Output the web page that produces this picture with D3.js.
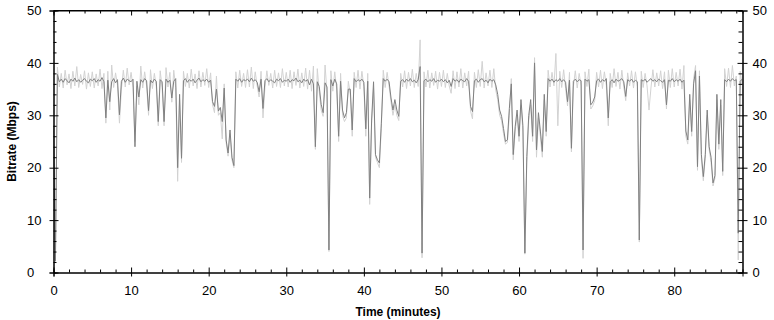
<!DOCTYPE html>
<html>
<head>
<meta charset="utf-8">
<script src="https://cdn.jsdelivr.net/npm/d3@7"></script>
<style>
  body { margin: 0; background: #fff; }
  svg text { font-family: "Liberation Sans", Arial, sans-serif; }
</style>
</head>
<body>
<svg id="chart" width="774" height="320"></svg>
<script>
let width = 774, height = 320;

// one sample every 0.25 minutes, starting at t = 0
let sampleStep = 0.25;

// smoothed bitrate (Mbps), dark line
let avgRate = [
  28, 2.2, 37.8, 36.4, 36.9, 36.3, 37.0, 36.6, 36.2, 36.9, 36.5, 37.1, 36.4, 36.8, 36.3, 36.7, 37.0, 36.5, 36.2, 36.9,
  36.6, 37.0, 36.3, 36.8, 36.5, 37.2, 36.4, 29.5, 36.7, 32.6, 36.4, 37.0, 36.2, 36.8, 30.1, 36.5, 37.1, 36.3, 36.9, 36.6,
  36.4, 36.9, 24.0, 36.5, 33.5, 36.8, 36.3, 37.0, 36.6, 30.9, 36.7, 36.2, 36.9, 36.5, 28.8, 36.8, 36.4, 28.8, 36.9, 36.3,
  36.7, 33.3, 36.5, 37.0, 20.0, 34.0, 21.8, 36.6, 37.0, 36.3, 36.8, 36.5, 36.9, 36.2, 36.7, 37.1, 36.4, 36.8, 36.5, 36.9,
  36.3, 36.7, 32.6, 31.7, 35.0, 30.8, 31.5, 28.8, 35.2, 25.3, 22.8, 27.2, 22.0, 20.4, 36.9, 36.5, 37.0, 36.3, 36.8, 36.6,
  36.9, 36.4, 37.1, 36.5, 36.8, 36.3, 34.5, 36.9, 31.3, 36.6, 37.0, 36.4, 36.8, 36.5, 36.2, 36.9, 36.6, 37.0, 36.3, 36.7,
  36.5, 36.9, 36.3, 36.8, 36.6, 37.1, 36.4, 36.7, 36.2, 36.9, 36.5, 36.8, 35.8, 36.9, 36.0, 24.0, 36.4, 35.5, 32.1, 30.5,
  36.2, 35.4, 4.3, 36.8, 35.6, 36.9, 36.0, 26.0, 36.5, 31.0, 29.5, 30.5, 35.0, 35.0, 27.2, 37.0, 36.4, 36.8, 36.5, 36.9,
  36.3, 27.4, 36.5, 14.2, 29.1, 36.4, 22.5, 21.5, 20.9, 28.5, 37.0, 36.5, 36.9, 36.4, 33.3, 31.0, 33.0, 31.0, 29.8, 36.5,
  36.8, 36.3, 36.9, 36.5, 37.0, 36.4, 36.7, 36.2, 36.8, 39.3, 3.7, 36.6, 36.9, 36.4, 36.8, 36.5, 37.0, 36.3, 36.7, 36.5,
  36.9, 36.4, 36.8, 36.2, 36.7, 35.5, 37.0, 36.5, 36.8, 36.3, 36.9, 36.6, 36.4, 37.0, 36.5, 31.7, 30.7, 36.6, 36.9, 36.3,
  36.8, 37.0, 36.4, 36.7, 36.2, 36.9, 36.5, 36.8, 35.8, 34.0, 31.0, 29.8, 27.5, 25.0, 25.3, 31.3, 36.0, 22.5, 27.8, 31.0,
  26.0, 33.0, 28.0, 3.7, 22.1, 30.0, 33.0, 26.0, 40.0, 23.4, 30.5, 27.0, 23.1, 34.0, 26.9, 37.0, 36.5, 36.9, 36.3, 36.8,
  36.5, 37.0, 36.4, 36.8, 36.3, 32.6, 36.7, 23.7, 36.5, 36.9, 36.4, 36.8, 36.6, 4.3, 36.9, 36.5, 36.8, 32.0, 32.5, 33.5,
  36.6, 36.9, 36.3, 36.8, 36.5, 37.0, 29.5, 36.4, 36.8, 36.2, 36.9, 36.5, 36.7, 37.0, 36.4, 33.6, 36.8, 36.5, 36.9, 36.3,
  36.7, 36.4, 6.2, 36.8, 36.5, 36.9, 36.3, 36.7, 37.0, 36.5, 36.8, 36.4, 36.9, 36.6, 36.3, 36.8, 32.0, 36.7, 36.5, 37.0,
  36.4, 36.8, 36.5, 36.9, 36.3, 36.7, 27.0, 25.3, 34.0, 26.9, 36.0, 38.5, 20.2, 37.5, 22.5, 18.3, 22.5, 31.0, 24.0, 22.0,
  17.1, 18.5, 34.0, 24.5, 33.0, 19.3, 36.8, 36.4, 36.9, 36.5, 37.0, 36.6, 36.8, 7.5, 36.5, 36.9
];

// raw bitrate (Mbps), light line
let rawRate = [
  27, 2.0, 39.2, 35.4, 38.0, 35.2, 38.6, 35.8, 37.9, 35.1, 38.4, 35.6, 39.3, 35.3, 37.8, 35.9, 38.5, 35.0, 38.1, 35.5,
  38.3, 35.2, 37.9, 35.6, 38.8, 35.1, 38.0, 28.5, 38.4, 31.0, 39.6, 35.3, 38.1, 35.7, 28.5, 35.0, 38.6, 35.4, 39.0, 35.8,
  38.2, 35.3, 25.0, 35.6, 32.0, 39.4, 35.2, 38.3, 35.6, 30.0, 38.7, 35.1, 38.0, 35.5, 28.0, 38.5, 35.3, 28.0, 39.1, 35.4,
  38.2, 32.5, 38.6, 35.3, 17.4, 33.0, 21.0, 38.4, 35.5, 38.0, 35.2, 38.8, 35.6, 37.9, 35.1, 38.5, 35.4, 38.2, 35.7, 38.9,
  35.3, 38.1, 32.0, 30.5, 37.5, 30.0, 30.5, 25.5, 36.0, 24.8, 22.2, 26.5, 21.5, 20.0, 38.3, 35.2, 38.6, 35.5, 38.0, 35.3,
  38.7, 35.4, 39.2, 35.1, 38.3, 35.6, 33.5, 38.4, 29.5, 35.3, 38.5, 35.7, 38.0, 35.2, 38.6, 35.5, 38.1, 35.3, 38.9, 35.6,
  38.2, 35.4, 38.6, 35.1, 38.3, 35.7, 38.8, 35.2, 38.1, 35.5, 39.0, 35.0, 38.6, 34.6, 39.4, 23.5, 38.9, 34.5, 31.0, 29.8,
  39.6, 34.2, 4.0, 38.5, 34.6, 38.3, 35.0, 25.0, 38.0, 30.0, 28.8, 29.5, 36.5, 34.0, 26.0, 38.2, 35.3, 38.6, 35.0, 38.4,
  35.5, 26.0, 38.0, 13.0, 28.5, 35.2, 22.0, 21.0, 20.0, 27.5, 38.6, 35.3, 38.2, 35.6, 32.5, 30.0, 32.0, 30.0, 29.0, 38.0,
  35.4, 38.5, 35.1, 38.2, 35.6, 38.8, 35.3, 38.0, 35.5, 44.4, 2.8, 38.3, 35.4, 38.6, 35.2, 38.1, 35.7, 38.4, 35.0, 38.2,
  35.5, 38.6, 35.3, 38.0, 35.6, 34.2, 38.5, 35.1, 38.3, 35.4, 38.9, 35.2, 38.1, 35.6, 38.4, 30.8, 29.3, 38.2, 35.3, 38.7,
  35.5, 40.3, 35.2, 38.1, 35.6, 38.6, 35.3, 38.9, 34.8, 33.0, 30.0, 29.0, 26.5, 24.5, 24.8, 30.0, 37.0, 21.5, 27.0, 30.0,
  25.0, 32.0, 27.0, 3.5, 21.0, 29.0, 32.0, 25.0, 41.0, 22.0, 29.5, 26.0, 22.0, 33.0, 26.0, 38.6, 35.4, 38.2, 35.6, 41.8,
  28.0, 38.4, 35.3, 38.7, 35.1, 31.8, 38.2, 23.0, 35.4, 38.5, 35.2, 38.0, 35.6, 2.7, 38.3, 35.5, 38.8, 31.2, 31.8, 32.8,
  38.2, 35.4, 38.6, 35.1, 38.3, 35.7, 28.0, 38.0, 35.3, 38.9, 35.5, 38.2, 35.0, 38.6, 35.4, 32.8, 38.1, 35.6, 38.5, 35.2,
  38.3, 35.5, 5.8, 38.4, 35.3, 38.0, 35.6, 31.0, 35.2, 38.7, 35.4, 38.1, 35.6, 38.5, 35.1, 38.3, 31.2, 38.6, 35.3, 38.9,
  35.4, 38.2, 35.6, 38.8, 35.0, 39.5, 26.0, 24.5, 33.0, 26.0, 37.0, 39.5, 19.5, 38.5, 21.5, 17.5, 21.8, 30.0, 23.5, 21.0,
  16.5, 18.0, 33.0, 23.5, 32.0, 18.5, 38.9, 35.5, 39.0, 35.3, 39.5, 35.6, 37.5, 2.4, 38.4, 35.8
];

let xMajor = [0, 10, 20, 30, 40, 50, 60, 70, 80];
let xMinor = [2, 4, 6, 8, 12, 14, 16, 18, 22, 24, 26, 28, 32, 34, 36, 38, 42, 44, 46, 48,
              52, 54, 56, 58, 62, 64, 66, 68, 72, 74, 76, 78, 82, 84, 86, 88];
let yMajor = [0, 10, 20, 30, 40, 50];
let yMinor = [2, 4, 6, 8, 12, 14, 16, 18, 22, 24, 26, 28, 32, 34, 36, 38, 42, 44, 46, 48];

let xTitle = "Time (minutes)", yTitle = "Bitrate (Mbps)";

let plotLeft = 53.5, plotRight = 742.5, plotTop = 10.5, plotBottom = 272.5;

let x = d3.scaleLinear().domain([0, 88.8]).range([plotLeft, plotRight]);
let y = d3.scaleLinear().domain([0, 50]).range([plotBottom, plotTop]);

let svg = d3.select('#chart');

svg.append('clipPath').attr('id', 'plotclip')
  .append('rect')
  .attr('x', plotLeft).attr('y', plotTop)
  .attr('width', plotRight - plotLeft).attr('height', plotBottom - plotTop);

let toPoints = (arr) => arr.map((v, i) => [i * sampleStep, v]);

let line = d3.line()
  .x(d => x(d[0]))
  .y(d => y(d[1]));

let plot = svg.append('g').attr('clip-path', 'url(#plotclip)');

plot.append('path')
  .datum(toPoints(rawRate))
  .attr('fill', 'none')
  .attr('stroke', '#d2d2d2')
  .attr('stroke-width', 1)
  .attr('d', line);

plot.append('path')
  .datum(toPoints(avgRate))
  .attr('fill', 'none')
  .attr('stroke', '#808080')
  .attr('stroke-width', 1)
  .attr('d', line);

// axes: major ticks cross the frame, minor ticks point inside
function styleAxis(g) {
  g.select('.domain').attr('stroke', '#000');
  g.selectAll('.tick line').attr('stroke', '#000');
  g.selectAll('.tick text').attr('fill', '#000').attr('font-size', 13)
    .attr('font-family', '"Liberation Sans", Arial, sans-serif');
}

// bottom
svg.append('g').attr('transform', 'translate(0,' + plotBottom + ')')
  .call(d3.axisBottom(x).tickValues(xMajor).tickSizeOuter(0).tickSize(4).tickPadding(9).tickFormat(d3.format('d')))
  .call(styleAxis)
  .call(g => g.selectAll('.tick line').attr('y1', -5));
svg.append('g').attr('transform', 'translate(0,' + plotBottom + ')')
  .call(d3.axisBottom(x).tickValues(xMinor).tickSizeOuter(0).tickSize(-3).tickFormat(''))
  .call(styleAxis);

// top
svg.append('g').attr('transform', 'translate(0,' + plotTop + ')')
  .call(d3.axisTop(x).tickValues(xMajor).tickSizeOuter(0).tickSize(-5).tickFormat(''))
  .call(styleAxis)
  .call(g => g.select('.domain').attr('d', 'M' + plotLeft + ',0H' + plotRight));
svg.append('g').attr('transform', 'translate(0,' + plotTop + ')')
  .call(d3.axisTop(x).tickValues(xMinor).tickSizeOuter(0).tickSize(-3).tickFormat(''))
  .call(styleAxis);

// left
svg.append('g').attr('transform', 'translate(' + plotLeft + ',0)')
  .call(d3.axisLeft(y).tickValues(yMajor).tickSizeOuter(0).tickSize(4).tickFormat(d3.format('d')))
  .call(styleAxis)
  .call(g => g.selectAll('.tick line').attr('x1', 5))
  .call(g => g.selectAll('.tick text').attr('text-anchor', 'start').attr('x', -26.5));
svg.append('g').attr('transform', 'translate(' + plotLeft + ',0)')
  .call(d3.axisLeft(y).tickValues(yMinor).tickSizeOuter(0).tickSize(-3).tickFormat(''))
  .call(styleAxis);

// right
svg.append('g').attr('transform', 'translate(' + plotRight + ',0)')
  .call(d3.axisRight(y).tickValues(yMajor).tickSizeOuter(0).tickSize(5).tickPadding(5).tickFormat(d3.format('d')))
  .call(styleAxis)
  .call(g => g.selectAll('.tick line').attr('x1', -5));
svg.append('g').attr('transform', 'translate(' + plotRight + ',0)')
  .call(d3.axisRight(y).tickValues(yMinor).tickSizeOuter(0).tickSize(-4).tickFormat(''))
  .call(styleAxis);

// titles
svg.append('text')
  .attr('x', (plotLeft + plotRight) / 2)
  .attr('y', 316)
  .attr('text-anchor', 'middle')
  .attr('font-size', 12)
  .attr('font-weight', 'bold')
  .text(xTitle);

svg.append('text')
  .attr('transform', 'translate(16,' + ((plotTop + plotBottom) / 2) + ') rotate(-90)')
  .attr('text-anchor', 'middle')
  .attr('font-size', 12)
  .attr('font-weight', 'bold')
  .text(yTitle);
</script>
</body>
</html>
